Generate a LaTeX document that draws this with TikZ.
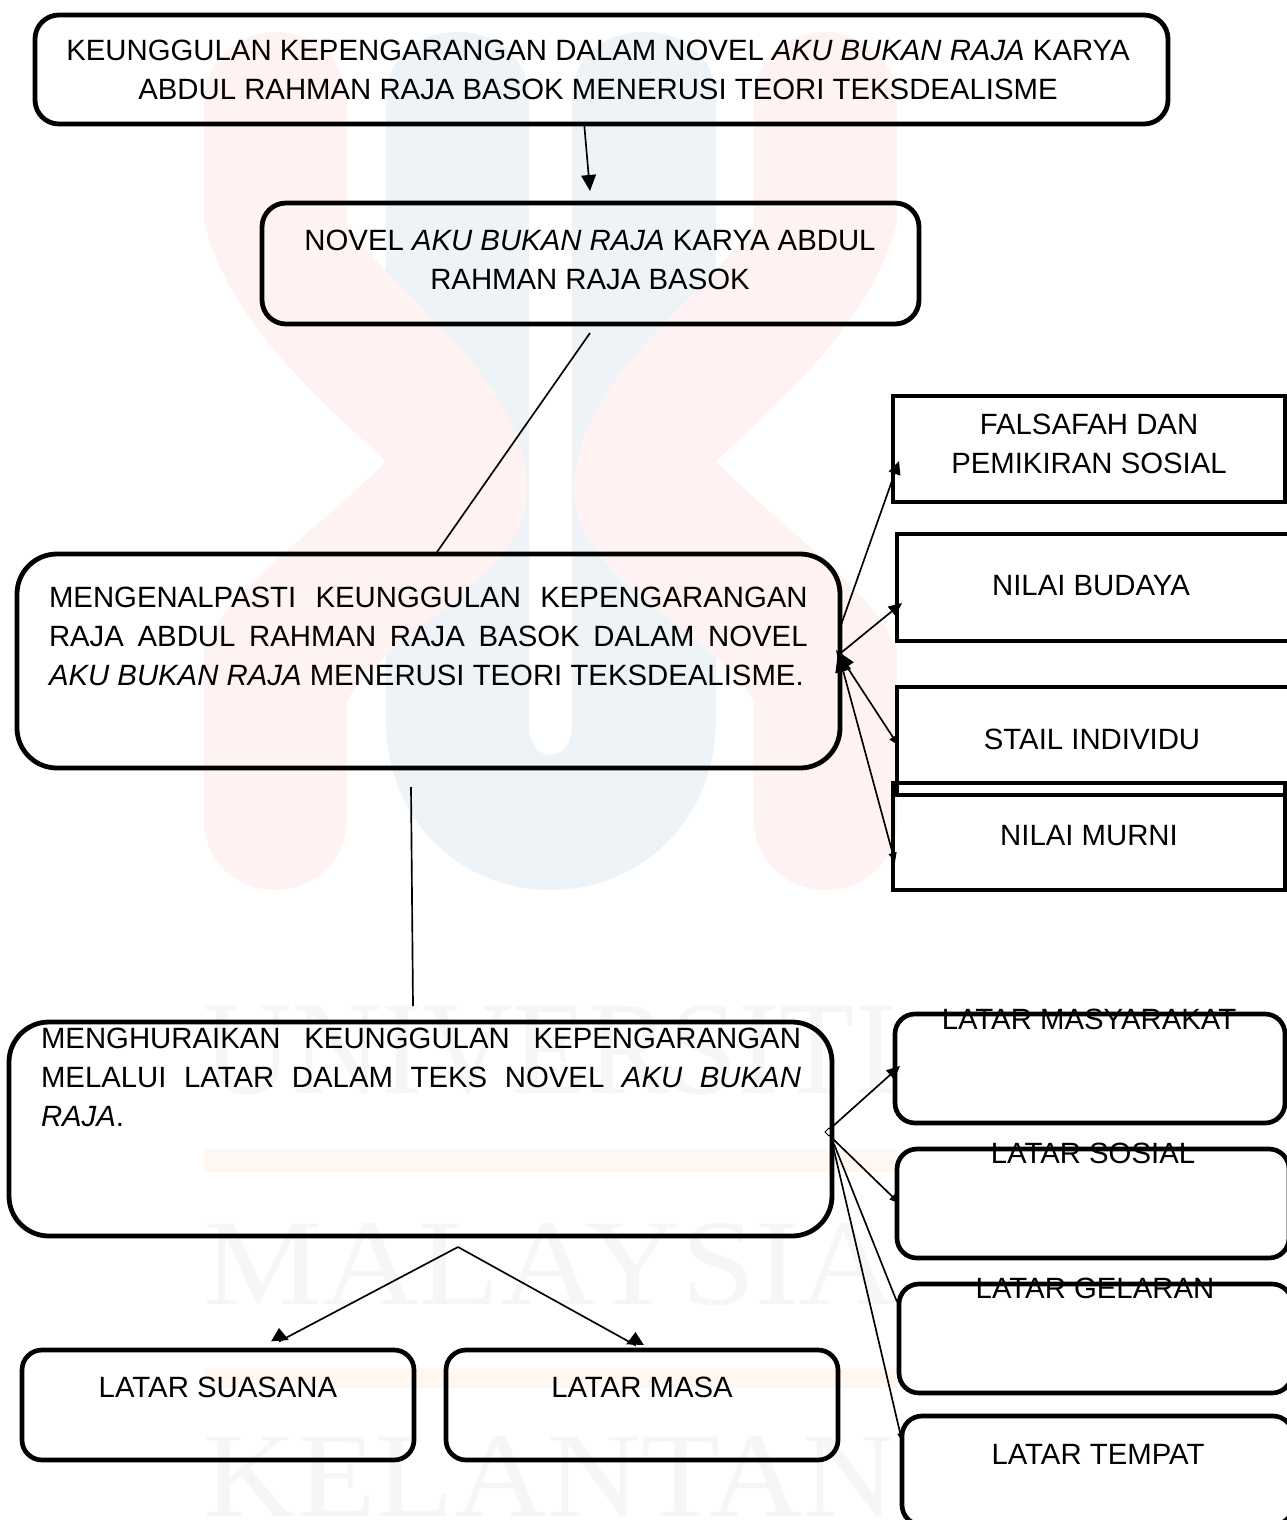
\documentclass[tikz,border=0pt]{standalone}
\usepackage{fontspec}
\setmainfont{Liberation Sans}
\newfontfamily\wmfont{Liberation Serif}
\usetikzlibrary{arrows.meta}
\definecolor{wmred}{HTML}{FFF2F2}
\definecolor{wmblue}{HTML}{EEF3F8}
\definecolor{wmorange}{HTML}{FFF7F0}
\definecolor{wmgrey}{HTML}{F6F6F6}
\newcommand{\bx}[6]{%
  \pgfmathsetmacro\cx{(#3+#5)/2}\pgfmathsetmacro\cy{(#4+#6)/2}%
  \pgfmathsetmacro\wdt{(#5-#3)*0.75}\pgfmathsetmacro\hgt{(#6-#4)*0.75}%
  \node[#2,minimum width=\wdt pt,minimum height=\hgt pt] (#1) at (\cx,\cy) {};}
\newcommand{\jline}[1]{\hbox to 569pt{#1}}
\newcommand{\jlineb}[1]{\hbox to 570pt{#1}}
\begin{document}
\begin{tikzpicture}[x=0.75pt,y=-0.75pt,
  bigbox/.style={draw=black,line width=3.6pt,rounded corners=30pt,inner sep=0pt,outer sep=0pt},
  titlebox/.style={draw=black,line width=3.6pt,rounded corners=18pt,inner sep=0pt,outer sep=0pt},
  smallbox/.style={draw=black,line width=3.5pt,rounded corners=15pt,inner sep=0pt,outer sep=0pt},
  sqbox/.style={draw=black,line width=3.5pt,inner sep=0pt,outer sep=0pt},
  lbl/.style={inner sep=0pt,outer sep=0pt,align=center,font=\fontsize{22}{29.25}\selectfont},
  lblj/.style={inner sep=0pt,outer sep=0pt,align=left,anchor=north west,font=\fontsize{22}{29.25}\selectfont},
  conn/.style={line width=1.25pt,draw=black},
  arr/.style={conn,-{Triangle[length=12pt,width=11pt]}},
  arrs/.style={conn,-{Triangle[length=10pt,width=9pt]}},
  barr/.style={conn,{Triangle[length=15pt,width=12pt]}-{Triangle[length=7pt,width=6pt]}},
  wm/.style={inner sep=0pt,outer sep=0pt,text=wmgrey}]
\useasboundingbox (0,0) rectangle (1287,1520);
% watermark
\fill[wmblue] (386,100) .. controls (386,60) and (415,32) .. (457,32) .. controls (500,32) and (529,60) .. (529,100) -- (529,725) .. controls (529,745) and (540,755) .. (550,755) .. controls (562,755) and (572,745) .. (572,725) -- (572,100) .. controls (572,60) and (600,32) .. (644,32) .. controls (688,32) and (716,60) .. (716,100) -- (716,720) .. controls (716,820) and (640,890) .. (551,890) .. controls (460,890) and (386,820) .. (386,720) -- cycle;
\fill[wmred] (204,102) .. controls (204,60) and (240,32) .. (275,32) .. controls (315,32) and (347,60) .. (347,102) -- (347,225) .. controls (400,300) and (527,380) .. (527,490) .. controls (527,580) and (400,620) .. (347,700) -- (347,820) .. controls (347,860) and (315,890) .. (275,890) .. controls (235,890) and (204,860) .. (204,820) -- (204,650) .. controls (225,590) and (330,520) .. (386,461) .. controls (330,410) and (225,320) .. (204,220) -- cycle;
\fill[wmred] (897,102) .. controls (897,60) and (861,32) .. (826,32) .. controls (786,32) and (754,60) .. (754,102) -- (754,225) .. controls (701,300) and (574,380) .. (574,490) .. controls (574,580) and (701,620) .. (754,700) -- (754,820) .. controls (754,860) and (786,890) .. (826,890) .. controls (866,890) and (897,860) .. (897,820) -- (897,650) .. controls (876,590) and (771,520) .. (716,461) .. controls (771,410) and (876,320) .. (897,220) -- cycle;
\fill[wmorange] (204,1149) rectangle (897,1172);
\fill[wmorange] (204,1368) rectangle (897,1388);
\node[wm] (wmu) at (550,1050) {\resizebox{519pt}{66pt}{\wmfont UNIVERSITI}};
\node[wm] (wmm) at (550,1264) {\resizebox{519pt}{61pt}{\wmfont MALAYSIA}};
\node[wm] (wmk) at (550,1476) {\resizebox{519pt}{60pt}{\wmfont KELANTAN}};
% boxes
\bx{b1}{titlebox}{35}{15}{1168}{124}
\bx{b2}{titlebox}{262}{203}{919}{324}
\bx{b3}{bigbox}{17}{554}{840}{768}
\bx{b4}{bigbox}{9}{1022}{832}{1236}
\bx{s1}{sqbox}{893}{396}{1285}{502}
\bx{s2}{sqbox}{897}{534}{1295}{641}
\bx{s3}{sqbox}{897}{687}{1295}{795}
\bx{s4}{sqbox}{893}{783}{1285}{890}
\bx{r1}{smallbox}{895}{1014}{1285}{1123}
\bx{r2}{smallbox}{897}{1149}{1289}{1258}
\bx{r3}{smallbox}{899}{1284}{1292}{1393}
\bx{r4}{smallbox}{902}{1416}{1293}{1525}
\bx{r5}{smallbox}{22}{1350}{414}{1460}
\bx{r6}{smallbox}{446}{1350}{838}{1460}
% text
\node[lbl] (t1) at (598,70) {KEUNGGULAN KEPENGARANGAN DALAM NOVEL \textit{AKU BUKAN RAJA} KARYA\\ABDUL RAHMAN RAJA BASOK MENERUSI TEORI TEKSDEALISME};
\node[lbl] (t2) at (590,260) {NOVEL \textit{AKU BUKAN RAJA} KARYA ABDUL\\RAHMAN RAJA BASOK};
\node[lblj] (t3) at (49,587) {\jline{MENGENALPASTI KEUNGGULAN KEPENGARANGAN}\\\jline{RAJA ABDUL RAHMAN RAJA BASOK DALAM NOVEL}\\\textit{AKU BUKAN RAJA} MENERUSI TEORI TEKSDEALISME.};
\node[lblj] (t4) at (41,1028) {\jlineb{MENGHURAIKAN KEUNGGULAN KEPENGARANGAN}\\\jlineb{MELALUI LATAR DALAM TEKS NOVEL \textit{AKU BUKAN}}\\\textit{RAJA}.};
\node[lbl] (t5) at (1089,444) {FALSAFAH DAN\\PEMIKIRAN SOSIAL};
\node[lbl] (t6) at (1091,586) {NILAI BUDAYA};
\node[lbl] (t7) at (1092,739) {STAIL INDIVIDU};
\node[lbl] (t8) at (1089,836) {NILAI MURNI};
\node[lbl] (t9) at (1089,1019) {LATAR MASYARAKAT};
\node[lbl] (t10) at (1093,1153) {LATAR SOSIAL};
\node[lbl] (t11) at (1095,1288) {LATAR GELARAN};
\node[lbl] (t12) at (1098,1454) {LATAR TEMPAT};
\node[lbl] (t13) at (218,1387) {LATAR SUASANA};
\node[lbl] (t14) at (642,1387) {LATAR MASA};
% free connector ends
\coordinate (c1a) at (584,122); \coordinate (c1b) at (590,191);
\coordinate (c2a) at (590,333); \coordinate (c2b) at (437,552);
\coordinate (c3a) at (411,787); \coordinate (c3b) at (413,1006);
\coordinate (e1a) at (841,625); \coordinate (e1b) at (899,461);
\coordinate (e2a) at (842,652); \coordinate (e2b) at (902,603);
\coordinate (e3a) at (836,650); \coordinate (e3b) at (898,745);
\coordinate (e4a) at (838,652); \coordinate (e4b) at (895,862);
\coordinate (dm) at (829,1132);
\coordinate (f1b) at (900,1066); \coordinate (f2b) at (899,1203);
\coordinate (f3b) at (897,1302); \coordinate (f4b) at (902,1441);
\coordinate (g) at (458,1247);
\coordinate (g1) at (280,1341); \coordinate (g1t) at (279,1328);
\coordinate (g2) at (635,1345); \coordinate (g2t) at (635.5,1332);
% connectors
\draw[arr] (c1a) -- (c1b);
\draw[conn] (c2a) -- (c2b);
\draw[conn] (c3a) -- (c3b);
\draw[arrs] (e1a) -- (e1b);
\draw[arrs] (e2a) -- (e2b);
\draw[barr] (e3a) -- (e3b);
\draw[barr] (e4a) -- (e4b);
\draw[line width=0.7pt] (825,1132) -- (829,1128) -- (833,1132) -- (829,1136) -- cycle;
\draw[arrs] (dm) ++(3,-5) -- (f1b);
\draw[arrs,-{Triangle[length=7pt,width=6pt]}] (dm) ++(3,6) -- (f2b);
\draw[conn] (dm) ++(5,12) -- (f3b);
\draw[conn,-{Triangle[length=6pt,width=4pt]}] (dm) ++(4,14) -- (f4b);
\draw[conn,-{Triangle[length=9.5pt,width=13pt]}] (g) -- (g1) -- (g1t);
\draw[conn,-{Triangle[length=9.5pt,width=13pt]}] (g) -- (g2) -- (g2t);
\end{tikzpicture}
\end{document}
